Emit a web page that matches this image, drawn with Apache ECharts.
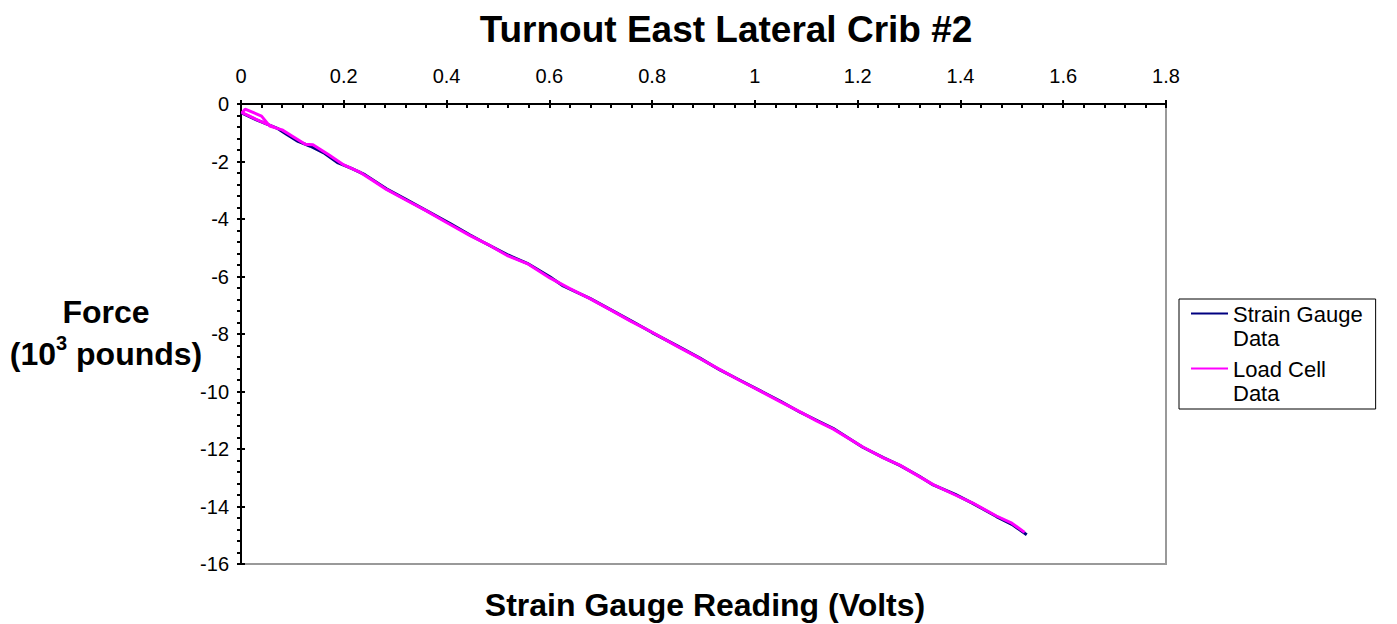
<!DOCTYPE html>
<html>
<head>
<meta charset="utf-8">
<script src="https://cdn.jsdelivr.net/npm/echarts@6/dist/echarts.min.js"></script>
<style>
html,body{margin:0;padding:0;background:#fff;}
#chart{width:1397px;height:624px;}
</style>
</head>
<body>
<div id="chart"></div>
<script>
// ---- data ----
const chartTitle = 'Turnout East Lateral Crib #2';
const xAxisTitle = 'Strain Gauge Reading (Volts)';
const seriesNames = ['Strain Gauge Data', 'Load Cell Data'];
const xTicks = [0, 0.2, 0.4, 0.6, 0.8, 1, 1.2, 1.4, 1.6, 1.8];
const yTicks = [0, -2, -4, -6, -8, -10, -12, -14, -16];

const strainGaugeX = [0.000, 0.030, 0.072, 0.090, 0.111, 0.135, 0.163, 0.189, 0.215, 0.241, 0.283, 0.320, 0.360, 0.407, 0.445, 0.471, 0.518, 0.557, 0.601, 0.627, 0.679, 0.720, 0.760, 0.800, 0.850, 0.893, 0.932, 0.970, 1.010, 1.050, 1.088, 1.120, 1.152, 1.210, 1.250, 1.282, 1.320, 1.347, 1.390, 1.424, 1.470, 1.500, 1.529];
const strainGaugeY = [-0.30, -0.55, -0.86, -1.07, -1.30, -1.47, -1.72, -2.05, -2.24, -2.46, -2.95, -3.31, -3.70, -4.16, -4.55, -4.80, -5.24, -5.54, -6.01, -6.33, -6.76, -7.16, -7.55, -7.95, -8.42, -8.84, -9.25, -9.60, -9.97, -10.34, -10.72, -11.00, -11.28, -11.94, -12.30, -12.57, -12.95, -13.25, -13.58, -13.89, -14.35, -14.62, -14.98];

const loadCellX = [0.070, 0.035, 0.002, 0.008, 0.040, 0.056, 0.080, 0.100, 0.125, 0.140, 0.170, 0.200, 0.230, 0.260, 0.283, 0.320, 0.360, 0.400, 0.445, 0.480, 0.518, 0.557, 0.601, 0.640, 0.679, 0.720, 0.760, 0.800, 0.850, 0.893, 0.932, 0.970, 1.010, 1.050, 1.088, 1.120, 1.152, 1.210, 1.250, 1.282, 1.320, 1.347, 1.390, 1.424, 1.470, 1.500, 1.525];
const loadCellY = [-0.85, -0.58, -0.30, -0.18, -0.42, -0.77, -0.90, -1.12, -1.40, -1.42, -1.76, -2.12, -2.36, -2.70, -2.97, -3.33, -3.71, -4.12, -4.57, -4.88, -5.27, -5.55, -6.05, -6.42, -6.77, -7.17, -7.57, -7.94, -8.44, -8.85, -9.24, -9.61, -9.98, -10.36, -10.71, -11.02, -11.30, -11.93, -12.31, -12.56, -12.96, -13.24, -13.60, -13.88, -14.33, -14.58, -14.90];

const strainGaugeData = strainGaugeX.map((x, i) => [x, strainGaugeY[i]]);
const loadCellData = loadCellX.map((x, i) => [x, loadCellY[i]]);

const FONT = '"Liberation Sans", Arial, Helvetica, sans-serif';
const G = {left: 241, top: 104, width: 925, height: 460};

const chart = echarts.init(document.getElementById('chart'), null, {renderer: 'svg'});

const hidden = {show: false};
// legend icon: a short line drawn near the top of a 37x48 item box
const legendLineIcon = 'path://M0,0L37,0L37,0Z M0,10.5L37,10.5L37,12.5L0,12.5Z M0,48L37,48L37,48Z';

const option = {
  backgroundColor: '#fff',
  animation: false,
  grid: {left: G.left, top: G.top, width: G.width, height: G.height,
         show: true, borderColor: '#999', borderWidth: 2, backgroundColor: '#fff'},
  legend: {
    orient: 'vertical', left: 1179, top: 299,
    data: seriesNames,
    icon: legendLineIcon,
    borderColor: '#000', borderWidth: 1,
    padding: [3, 13, 4, 12],
    itemWidth: 37, itemHeight: 48, itemGap: 7,
    itemStyle: {borderWidth: 0},
    textStyle: {fontFamily: FONT, fontSize: 22, color: '#000', lineHeight: 24},
    formatter: name => name.replace(/ Data$/, '\nData')
  },
  graphic: [
    {type: 'text', silent: true,
     style: {text: chartTitle, x: 726, y: 29, font: 'bold 37px ' + FONT, fill: '#000', align: 'center', verticalAlign: 'middle'}},
    {type: 'text', silent: true,
     style: {text: xAxisTitle, x: 705, y: 605, font: 'bold 32px ' + FONT, fill: '#000', align: 'center', verticalAlign: 'middle'}},
    {type: 'text', silent: true,
     style: {
       text: '{a|Force}\n{a|(10}{s|3}{a| pounds)}',
       x: 106, y: 333, align: 'center', verticalAlign: 'middle',
       rich: {
         a: {fontFamily: FONT, fontWeight: 'bold', fontSize: 32, lineHeight: 42, fill: '#000', align: 'center'},
         s: {fontFamily: FONT, fontWeight: 'bold', fontSize: 20, lineHeight: 42, verticalAlign: 'top', padding: [0, 0, 12, 0], fill: '#000', align: 'center'}
       }
     }}
  ],
  xAxis: [
    {type: 'value', position: 'top', min: 0, max: 1.8, interval: 0.2,
     axisLine: {show: true, onZero: false, lineStyle: {color: '#000', width: 2}},
     axisTick: {show: true, inside: true, length: 4, lineStyle: {color: '#000', width: 2}},
     minorTick: {show: true, splitNumber: 5, length: 4, lineStyle: {color: '#000', width: 2}},
     splitLine: hidden,
     axisLabel: {margin: 18, fontFamily: FONT, fontSize: 20, color: '#000',
                 formatter: v => String(xTicks.find(t => Math.abs(t - v) < 1e-9) ?? v)}},
    {type: 'value', position: 'top', min: 0, max: 1.8, interval: 0.2, gridIndex: 0,
     axisLine: hidden, axisLabel: hidden, splitLine: hidden,
     axisTick: {show: true, inside: false, length: 4, lineStyle: {color: '#000', width: 2}}}
  ],
  yAxis: [
    {type: 'value', position: 'left', min: -16, max: 0, interval: 2,
     axisLine: {show: true, onZero: false, lineStyle: {color: '#000', width: 2}},
     axisTick: {show: true, inside: false, length: 4, lineStyle: {color: '#000', width: 2}},
     minorTick: {show: true, splitNumber: 5, length: 4, lineStyle: {color: '#000', width: 2}},
     splitLine: hidden,
     axisLabel: {margin: 12, fontFamily: FONT, fontSize: 20, color: '#000',
                 formatter: v => String(yTicks.find(t => Math.abs(t - v) < 1e-9) ?? v)}},
    {type: 'value', position: 'left', min: -16, max: 0, interval: 2, gridIndex: 0,
     axisLine: hidden, axisLabel: hidden, splitLine: hidden,
     axisTick: {show: true, inside: true, length: 4, lineStyle: {color: '#000', width: 2}}}
  ],
  series: [
    {name: seriesNames[0], type: 'line', data: strainGaugeData, symbol: 'none', showSymbol: false,
     lineStyle: {color: '#000080', width: 3}, itemStyle: {color: '#000080', borderWidth: 0}, z: 2},
    {name: seriesNames[1], type: 'line', data: loadCellData, symbol: 'none', showSymbol: false,
     lineStyle: {color: '#ff00ff', width: 3}, itemStyle: {color: '#ff00ff', borderWidth: 0}, z: 3}
  ]
};
chart.setOption(option);
</script>
</body>
</html>
